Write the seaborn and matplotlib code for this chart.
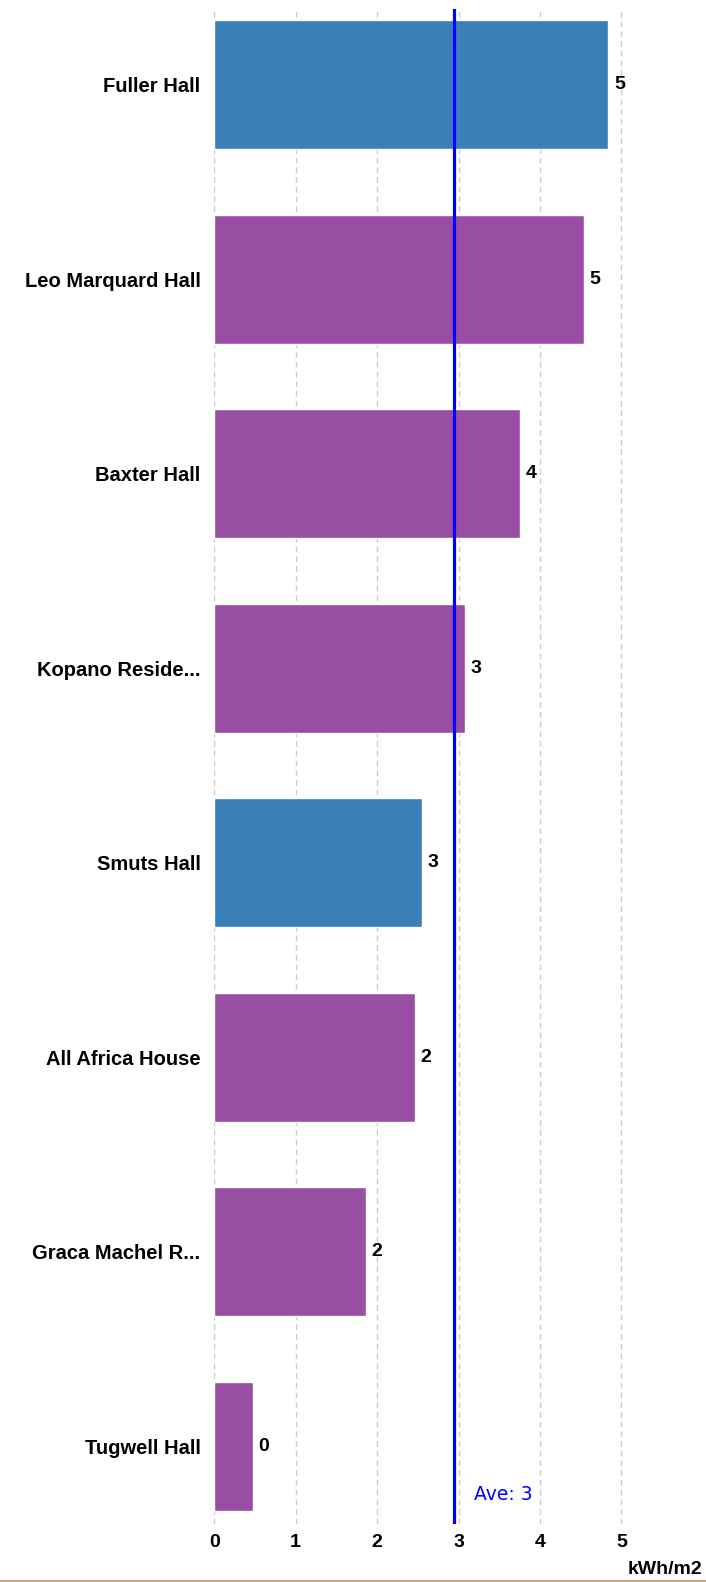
import matplotlib
matplotlib.use("Agg")
import matplotlib.pyplot as plt
import seaborn as sns
import pandas as pd

residences = ["Fuller Hall", "Leo Marquard Hall", "Baxter Hall", "Kopano Reside...",
              "Smuts Hall", "All Africa House", "Graca Machel R...", "Tugwell Hall"]
values = [4.84, 4.54, 3.76, 3.08, 2.55, 2.46, 1.86, 0.47]
groups = ["blue", "purple", "purple", "purple", "blue", "purple", "purple", "purple"]
value_labels = ["5", "5", "4", "3", "3", "2", "2", "0"]
average = 2.94
average_label = "Ave: 3"
x_ticks = [0, 1, 2, 3, 4, 5]
x_unit = "kWh/m2"

palette = {"blue": "#3a7fb8", "purple": "#984ea3"}

df = pd.DataFrame({"residence": residences, "value": values, "group": groups})

sns.set_theme(style="white")
plt.rcParams["font.family"] = ["Liberation Sans", "DejaVu Sans"]
plt.rcParams["text.color"] = "black"
plt.rcParams["xtick.color"] = "black"
plt.rcParams["ytick.color"] = "black"

fig = plt.figure(figsize=(7.06, 15.82), dpi=100)
ax = fig.add_axes([0.3035, 0.0367, 0.64, 0.9576])

sns.barplot(data=df, y="residence", x="value", hue="group", palette=palette,
            orient="h", width=0.663, dodge=False, legend=False, ax=ax, saturation=1)

ax.set_xlim(0, 5.55)
ax.set_ylim(7.4, -0.39)
ax.set_xticks(x_ticks)
ax.set_xticklabels([str(t) for t in x_ticks], fontweight="bold", fontsize=14)
for lbl in ax.get_yticklabels():
    lbl.set_fontweight("bold")
    lbl.set_fontsize(14.5)
ax.tick_params(axis="both", length=0, colors="black")
ax.tick_params(axis="x", pad=7)
ax.tick_params(axis="y", pad=10)
ax.set_xlabel("")
ax.set_ylabel("")
for s in ax.spines.values():
    s.set_visible(False)

for t in x_ticks:
    ax.axvline(t, color="#cccccc", linestyle=(0, (4, 3)), linewidth=1, zorder=0)

for i, (v, lab) in enumerate(zip(values, value_labels)):
    ax.text(v + 0.07, i, lab, va="center", ha="left", fontsize=14, fontweight="bold", color="black")

ax.axvline(average, color="#0000ff", linewidth=2.3, zorder=5)
ax.text(average + 0.25, 0.0195, average_label, transform=ax.get_xaxis_transform(),
        color="#0000ff", fontsize=13.5, family=["DejaVu Sans"], va="center", ha="left")

fig.text(0.995, 1 - 1569 / 1582, x_unit, ha="right", va="center", fontsize=14, fontweight="bold", color="black")
fig.add_artist(plt.Line2D([0, 1], [0.0006, 0.0006], color="#c8a47e", linewidth=1.5, transform=fig.transFigure))

fig.savefig("out.png", dpi=100)
